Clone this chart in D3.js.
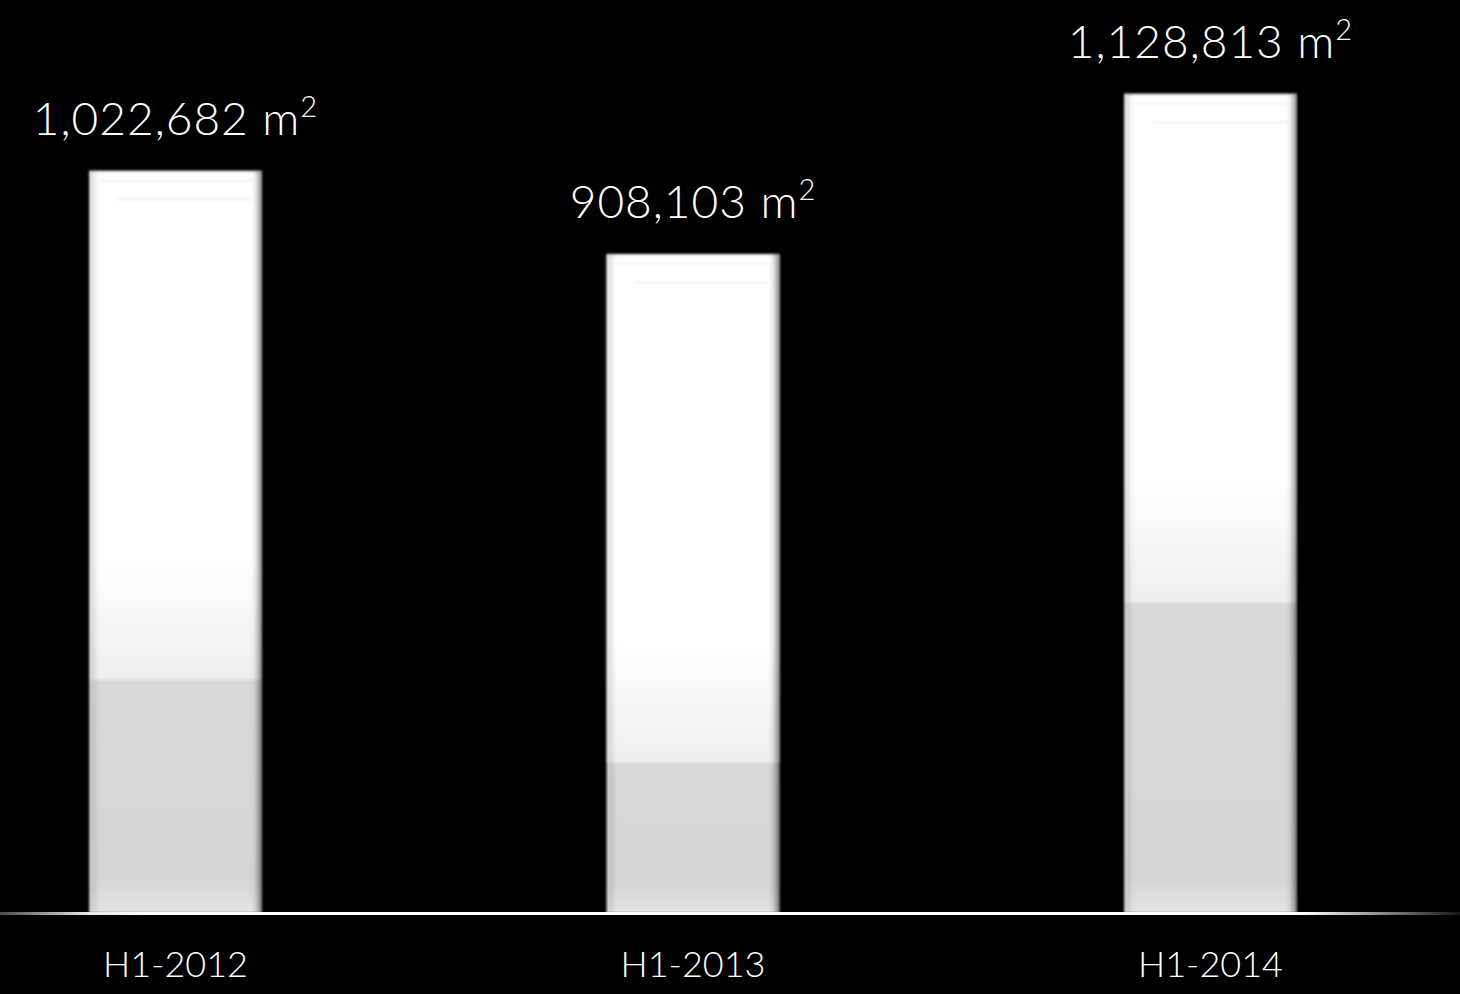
<!DOCTYPE html>
<html>
<head>
<meta charset="utf-8">
<script src="https://cdn.jsdelivr.net/npm/d3@7/dist/d3.min.js"></script>
<style>
  html, body { margin: 0; padding: 0; background: #000; }
  svg { display: block; }
  text { font-family: "Lato", "Segoe UI", sans-serif; font-weight: 300; fill: #fff; }
</style>
</head>
<body>
<svg id="chart" width="1460" height="994"></svg>
<script>
// Floor area delivered per half-year
const periods = ["H1-2012", "H1-2013", "H1-2014"];
const areas = [1022682, 908103, 1128813];

const W = 1460, H = 994;
const baseY = 913;

const svg = d3.select("#chart");
const defs = svg.append("defs");

// Glass-style fills
const lower = defs.append("linearGradient").attr("id", "lowerFill")
  .attr("x1", 0).attr("y1", 0).attr("x2", 0).attr("y2", 1);
lower.append("stop").attr("offset", "0%").attr("stop-color", "#dedede");
lower.append("stop").attr("offset", "96%").attr("stop-color", "#d6d6d6");
lower.append("stop").attr("offset", "100%").attr("stop-color", "#e4e4e4");

const upper = defs.append("linearGradient").attr("id", "upperFill")
  .attr("x1", 0).attr("y1", 0).attr("x2", 0).attr("y2", 1);
upper.append("stop").attr("offset", "0%").attr("stop-color", "#ffffff");
upper.append("stop").attr("offset", "76%").attr("stop-color", "#ffffff");
upper.append("stop").attr("offset", "100%").attr("stop-color", "#eeeeee");

const edges = defs.append("linearGradient").attr("id", "edgeShade")
  .attr("x1", 0).attr("y1", 0).attr("x2", 1).attr("y2", 0);
[
  [0, "#000", 0.18], [0.012, "#fff", 0.5], [0.03, "#000", 0.06], [0.06, "#000", 0.0],
  [0.94, "#000", 0.0], [0.965, "#000", 0.1], [0.985, "#000", 0.32], [1, "#000", 0.42]
].forEach(([o, c, a]) => edges.append("stop").attr("offset", o)
  .attr("stop-color", c).attr("stop-opacity", a));

const baseGrad = defs.append("linearGradient").attr("id", "baseLine")
  .attr("gradientUnits", "userSpaceOnUse")
  .attr("x1", 0).attr("y1", 0).attr("x2", W).attr("y2", 0);
[[0, "#4a4a4a"], [0.06, "#e8e8e8"], [0.1, "#ffffff"], [0.89, "#ffffff"], [0.9, "#f2f2f2"], [1, "#151515"]]
  .forEach(([o, c]) => baseGrad.append("stop").attr("offset", o).attr("stop-color", c));

const soft = defs.append("filter").attr("id", "soft")
  .attr("x", "-5%").attr("y", "-5%").attr("width", "110%").attr("height", "110%");
soft.append("feGaussianBlur").attr("stdDeviation", 0.8);

// Scales
const x = d3.scaleBand().domain(periods).range([-83.25, 1469.25])
  .paddingInner(0.6657).paddingOuter(0.33285);
const y = d3.scaleLinear().domain([0, 1258000]).range([baseY, 0]);

const data = periods.map((p, i) => ({ period: p, area: areas[i] }));

const bars = svg.append("g").attr("filter", "url(#soft)")
  .selectAll("g.bar").data(data).join("g").attr("class", "bar");

bars.append("rect")
  .attr("x", d => x(d.period)).attr("width", x.bandwidth())
  .attr("y", d => y(d.area)).attr("height", d => y(0) - y(d.area))
  .attr("fill", "url(#lowerFill)");

// bright upper body of each glass bar
bars.append("rect")
  .attr("x", d => x(d.period)).attr("width", x.bandwidth())
  .attr("y", d => y(d.area)).attr("height", 509)
  .attr("fill", "url(#upperFill)");

// faint inner rims near the top
bars.append("rect")
  .attr("x", d => x(d.period) + 10).attr("width", x.bandwidth() - 20)
  .attr("y", d => y(d.area) + 9).attr("height", 2)
  .attr("fill", "#000").attr("opacity", 0.05);
bars.append("rect")
  .attr("x", d => x(d.period) + 28).attr("width", x.bandwidth() - 38)
  .attr("y", d => y(d.area) + 27).attr("height", 3)
  .attr("fill", "#000").attr("opacity", 0.04);
bars.append("rect")
  .attr("x", d => x(d.period)).attr("width", x.bandwidth())
  .attr("y", d => y(d.area)).attr("height", 2)
  .attr("fill", "#000").attr("opacity", 0.08);

// side shading
bars.append("rect")
  .attr("x", d => x(d.period)).attr("width", x.bandwidth())
  .attr("y", d => y(d.area)).attr("height", d => y(0) - y(d.area))
  .attr("fill", "url(#edgeShade)");

// baseline
svg.append("rect").attr("x", 0).attr("width", W)
  .attr("y", baseY - 1).attr("height", 3).attr("fill", "url(#baseLine)");

// value labels
const fmt = d3.format(",");
const labels = svg.append("g").selectAll("text.value").data(data).join("text")
  .attr("class", "value")
  .attr("x", d => x(d.period) + x.bandwidth() / 2)
  .attr("y", d => y(d.area) - 36)
  .attr("text-anchor", "middle")
  .style("font-size", "46px")
  .style("letter-spacing", "1px");
labels.append("tspan").text(d => fmt(d.area) + " m");
labels.append("tspan").attr("dy", -18).style("font-size", "29px").text("2");

// period labels
svg.append("g").selectAll("text.period").data(data).join("text")
  .attr("class", "period")
  .attr("x", d => x(d.period) + x.bandwidth() / 2)
  .attr("y", 977)
  .attr("text-anchor", "middle")
  .style("font-size", "36px")
  .text(d => d.period);
</script>
</body>
</html>
